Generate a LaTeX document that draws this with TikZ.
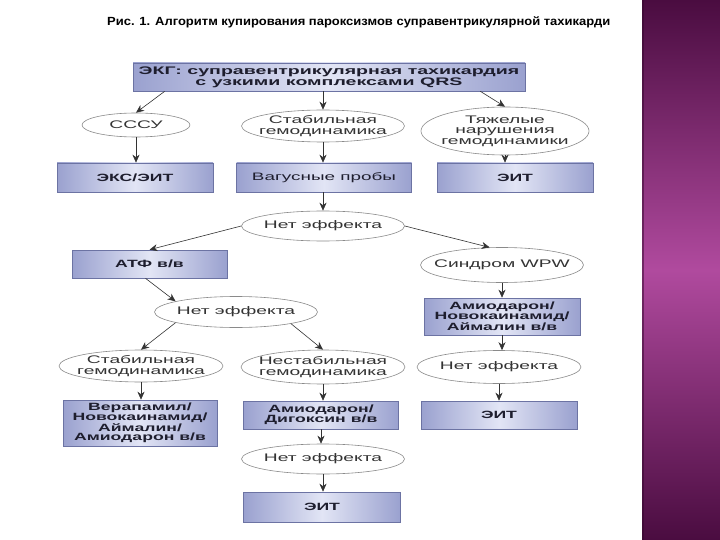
\documentclass[tikz,border=0pt]{standalone}
\usepackage{fontspec}
\setmainfont{Liberation Sans}
\newfontfamily\mywideR[FakeStretch=1.75]{Liberation Sans}
\newfontfamily\mywideB[FakeStretch=1.68]{Liberation Sans}
\newfontfamily\mywideT[FakeStretch=1.78]{Liberation Sans}
\usetikzlibrary{arrows.meta,shapes.geometric,calc}
\definecolor{boxside}{HTML}{9AA1CF}
\definecolor{boxmid}{HTML}{E2E5F5}
\definecolor{boxedge}{HTML}{6C73A3}
\definecolor{boxtext}{HTML}{1E1E2E}
\definecolor{elledge}{HTML}{8A8A8A}
\definecolor{elltext}{HTML}{333333}
\definecolor{arrcol}{HTML}{333333}
\definecolor{purpdark}{HTML}{4A0C40}
\definecolor{purpmid}{HTML}{B04A9E}
\newcommand\mytopfont{\mywideT\bfseries\fontsize{11}{10.8}\selectfont}
\newcommand\myboxfont{\mywideB\bfseries\fontsize{10.5}{9.8}\selectfont}
\newcommand\myboxreg{\mywideR\fontsize{10.8}{9.8}\selectfont}
\newcommand\myellfont{\mywideR\fontsize{11}{10.4}\selectfont}
\begin{document}
\begin{tikzpicture}[x=1pt,y=-1pt,
  box/.style={draw=boxedge, line width=0.6pt, left color=boxside, right color=boxside,
    middle color=boxmid, inner sep=1pt, align=center, text=boxtext, font=\myboxfont},
  ell/.style={ellipse, draw=elledge, line width=0.6pt, fill=white, inner sep=-22pt,
    align=center, text=elltext, font=\myellfont},
  arr/.style={draw=arrcol, line width=0.6pt, -{Stealth[length=8pt,width=7pt,inset=2.5pt]}}
]
\useasboundingbox (0,0) rectangle (720,540);
\fill[white] (0,0) rectangle (720,540);
% purple band
\shade[top color=purpdark, bottom color=purpdark, middle color=purpmid] (642,0) rectangle (720,540);
\fill[purpdark!70!black, opacity=0.5] (642,0) rectangle (644,540);

% title
\node[anchor=west, inner sep=0pt, text=black] (title) at (107,22)
  {\resizebox{503pt}{8.8pt}{\bfseries Рис. 1. Алгоритм купирования пароксизмов суправентрикулярной тахикарди}};

% nodes
\node[box, minimum width=392pt, minimum height=28pt, font=\mytopfont] (ekg) at (329,77)
  {ЭКГ: суправентрикулярная тахикардия\\с узкими комплексами QRS};

\node[ell, minimum width=108pt, minimum height=24pt] (sssu) at (136,125) {СССУ};
\node[ell, minimum width=163pt, minimum height=32pt] (stab1) at (323,126) {Стабильная\\гемодинамика};
\node[ell, minimum width=168pt, minimum height=48pt] (tyazh) at (505,131) {Тяжелые\\нарушения\\гемодинамики};

\node[box, minimum width=156pt, minimum height=29pt] (eks) at (135,177.5) {ЭКС/ЭИТ};
\node[box, minimum width=175pt, minimum height=29pt, font=\myboxreg] (vag) at (324,177.5) {Вагусные пробы};
\node[box, minimum width=156pt, minimum height=29pt] (eit1) at (515,177.5) {ЭИТ};

\node[ell, minimum width=163pt, minimum height=30pt] (net1) at (323,226) {Нет эффекта};

\node[box, minimum width=155pt, minimum height=28pt] (atf) at (149.5,264) {АТФ в/в};
\node[ell, minimum width=163pt, minimum height=35pt] (wpw) at (502,265) {Синдром WPW};

\node[ell, minimum width=163pt, minimum height=31pt] (net2) at (236,312) {Нет эффекта};
\node[box, minimum width=156pt, minimum height=37pt] (amio1) at (502,316.5) {Амиодарон/\\Новокаинамид/\\Аймалин в/в};

\node[ell, minimum width=164pt, minimum height=32pt] (stab2) at (141,366) {Стабильная\\гемодинамика};
\node[ell, minimum width=164pt, minimum height=34pt] (nestab) at (323,367) {Нестабильная\\гемодинамика};
\node[ell, minimum width=164pt, minimum height=33pt] (net3) at (499,367) {Нет эффекта};

\node[box, minimum width=154pt, minimum height=46pt, inner sep=2pt] (verap) at (140,423) {Верапамил/\\Новокаинамид/\\Аймалин/\\Амиодарон в/в};
\node[box, minimum width=155pt, minimum height=28pt] (amdig) at (321,415) {Амиодарон/\\Дигоксин в/в};
\node[box, minimum width=156pt, minimum height=28pt] (eit2) at (499,415) {ЭИТ};

\node[ell, minimum width=163pt, minimum height=30pt] (net4) at (323,459) {Нет эффекта};
\node[box, minimum width=157pt, minimum height=30pt] (eit3) at (322,507) {ЭИТ};

% connectors
\draw[arr] ($(ekg.south west)+(32pt,0)$) -- (sssu.north);
\draw[arr] (ekg.south -| stab1.north) -- (stab1.north);
\draw[arr] ($(ekg.south east)+(-45pt,0)$) -- (tyazh.north);
\draw[arr] (sssu.south) -- (sssu.south |- eks.north);
\draw[arr] (stab1.south) -- (stab1.south |- vag.north);
\draw[arr] (tyazh.south) -- (tyazh.south |- eit1.north);
\draw[arr] (vag.south -| net1.north) -- (net1.north);
\draw[arr] (net1.west) -- (atf.north);
\draw[arr] (net1.east) -- (wpw.125);
\draw[arr] ($(atf.south)+(-4pt,0)$) -- (net2.170);
\draw[arr] (net2.190) -- (stab2.north);
\draw[arr] (net2.-12) -- (nestab.north);
\draw[arr] (wpw.south) -- (wpw.south |- amio1.north);
\draw[arr] (amio1.south) -- (amio1.south |- net3.north);
\draw[arr] (stab2.south) -- (stab2.south |- verap.north);
\draw[arr] (nestab.south) -- (nestab.south |- amdig.north);
\draw[arr] (net3.south) -- (net3.south |- eit2.north);
\draw[arr] (amdig.south) -- (amdig.south |- net4.north);
\draw[arr] (net4.south) -- (net4.south |- eit3.north);
\end{tikzpicture}
\end{document}
